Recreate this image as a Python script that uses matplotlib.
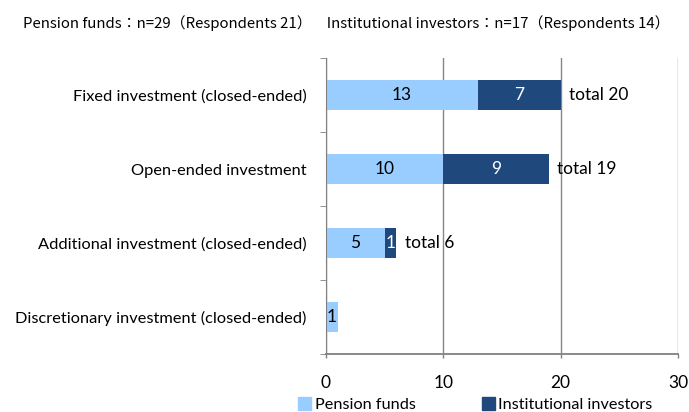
import matplotlib
matplotlib.use("Agg")
import matplotlib.pyplot as plt
from matplotlib.patches import Patch

categories = ["Fixed investment (closed-ended)", "Open-ended investment",
              "Additional investment (closed-ended)", "Discretionary investment (closed-ended)"]
pension = [13, 10, 5, 1]
institutional = [7, 9, 1, 0]
totals = [20, 19, 6, None]
xticks = [0, 10, 20, 30]
header = "Pension funds：n=29（Respondents 21）　Institutional investors：n=17（Respondents 14）"

c_light = "#99CCFF"
c_dark = "#1F497D"

plt.rcParams['font.family'] = ['Lato', 'DejaVu Sans']
fig = plt.figure(figsize=(6.89, 4.12), dpi=100)
ax = fig.add_axes([0.473, 0.141, 0.511, 0.718])

y = list(range(len(categories)))
ax.barh(y, pension, height=0.4, color=c_light)
ax.barh(y, institutional, left=pension, height=0.4, color=c_dark)

for i in y:
    p, q = pension[i], institutional[i]
    if p:
        ax.text(p / 2, i, str(p), ha="center", va="center", fontsize=12.5, color="black")
    if q:
        ax.text(p + q / 2, i, str(q), ha="center", va="center", fontsize=12.5, color="white")
    if totals[i] is not None:
        ax.text(p + q + 0.7, i, f"total {totals[i]}", ha="left", va="center", fontsize=12.5)

ax.set_ylim(len(categories) - 0.5, -0.5)
ax.set_xlim(0, 30)
ax.set_xticks(xticks)
ax.set_xticklabels([str(t) for t in xticks], fontsize=12.5)
ax.set_yticks(y)
ax.set_yticklabels(categories, fontsize=11.8)
ax.tick_params(axis="y", length=0, pad=14)
ax.tick_params(axis="x", length=3, width=1, color="#808080", pad=12)
ax.set_yticks([-0.5, 0.5, 1.5, 2.5, 3.5], minor=True)
ax.tick_params(axis="y", which="minor", length=4, color="#808080")
ax.grid(axis="x", color="#868686", linewidth=1)
ax.set_axisbelow(True)
for s in ["top", "right"]:
    ax.spines[s].set_visible(False)
ax.spines["left"].set_color("#808080")
ax.spines["bottom"].set_color("#808080")
ax.spines["bottom"].set_linewidth(1.3)

fig.text(0.034, 0.945, header, fontsize=10.8, family=['Noto Sans CJK JP', 'DejaVu Sans'],
         ha="left", va="center")

handles = [Patch(color=c_light, label="Pension funds"), Patch(color=c_dark, label="Institutional investors")]
fig.legend(handles=handles, loc="center", bbox_to_anchor=(0.69, 0.018), ncol=2, frameon=False,
           fontsize=11.7, handlelength=0.8, handleheight=0.8, handletextpad=0.2, columnspacing=4.1,
           borderpad=0)

fig.savefig("out.png", dpi=100)
